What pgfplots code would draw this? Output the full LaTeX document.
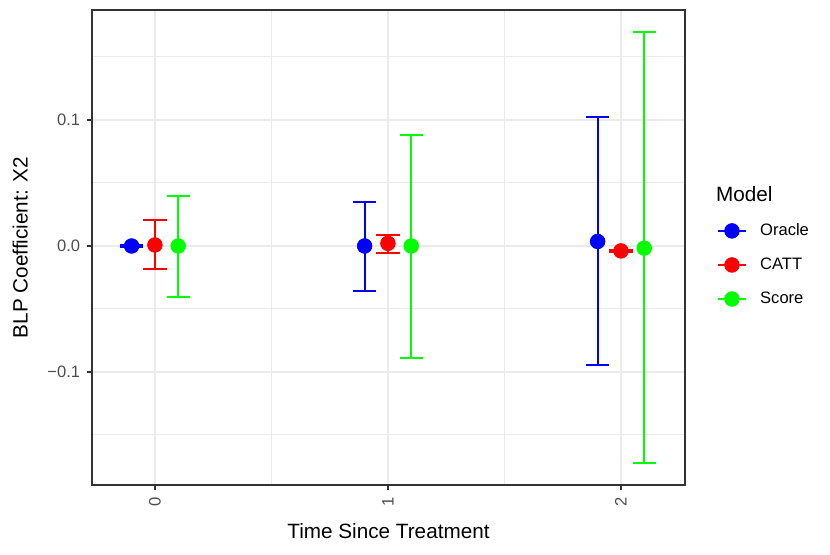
\documentclass[border=0pt]{standalone}
\usepackage{fontspec}
\setmainfont{Liberation Sans}
\usepackage{pgfplots}
\pgfplotsset{compat=1.18}
\usepackage{pgfplotstable}
\definecolor{gg92}{HTML}{EBEBEB}
\definecolor{gray30}{HTML}{4D4D4D}
\definecolor{gray20}{HTML}{333333}
\definecolor{ggblue}{HTML}{0000FF}
\definecolor{ggred}{HTML}{FF0000}
\definecolor{gggreen}{HTML}{00FF00}
\newlength\px
\setlength\px{0.5315pt}

\pgfplotstableread{
x y ep em
-0.1 0.0000 0.0010 0.0010
0.9 0.0000 0.0352 0.0355
1.9 0.0036 0.0984 0.0983
}\oracle
\pgfplotstableread{
x y ep em
0 0.0008 0.0196 0.0193
1 0.0021 0.0069 0.0074
2 -0.0039 0.0010 0.0010
}\catt
\pgfplotstableread{
x y ep em
0.1 0.0000 0.0397 0.0407
1.1 0.0000 0.0881 0.0889
2.1 -0.0017 0.1714 0.1703
}\score

\begin{document}
\begin{tikzpicture}
\useasboundingbox (0,0) rectangle (830\px,554\px);
\begin{axis}[
  at={(92\px,69\px)}, anchor=south west,
  scale only axis, width=593\px, height=475\px,
  xmin=-0.27, xmax=2.275, ymin=-0.1897, ymax=0.1873,
  clip mode=individual,
  xtick={0,1,2}, xticklabels={0,1,2},
  ytick={-0.1,0,0.1}, yticklabels={−0.1,0.0,0.1},
  minor xtick={0.5,1.5}, minor ytick={-0.15,-0.05,0.05,0.15},
  grid=both,
  major grid style={gg92, line width=1.07pt},
  minor grid style={gg92, line width=0.53pt},
  minor tick length=0pt,
  tick pos=left, tick align=outside,
  major tick length=2.75pt,
  tick style={gray20, line width=1.07pt},
  axis line style={gray20, line width=1.07pt},
  yticklabel style={font=\fontsize{8.8}{10}\selectfont, color=gray30},
  xticklabel style={font=\fontsize{8.8}{10}\selectfont, color=gray30, rotate=90, anchor=east},
  xlabel={Time Since Treatment},
  ylabel={BLP Coefficient: X2},
  label style={font=\fontsize{11}{13}\selectfont, color=black},
  xlabel style={at={(axis description cs:0.5,-0.097)}, anchor=center},
  ylabel style={at={(axis description cs:-0.121,0.5)}, anchor=center},
  legend cell align=left,
  legend style={draw=none, fill=none, at={(axis description cs:1.054,0.552)}, anchor=north west,
    font=\fontsize{8.8}{10}\selectfont, row sep=9.9pt, inner sep=0pt,
    nodes={inner sep=0pt}},
  legend image code/.code={
    \draw[line width=1.07pt] (0pt,0pt) -- (14.4pt,0pt);
    \fill (7.2pt,0pt) circle (3.9pt);
    \path (22pt,0pt);
  },
]
% error bars
\addplot[forget plot, only marks, mark=none, ggblue,
  error bars/.cd, y dir=both, y explicit, error mark=|,
  error bar style={line width=1.07pt, ggblue},
  error mark options={line width=1.07pt, mark size=6.2pt, ggblue}]
  table[x=x, y=y, y error plus=ep, y error minus=em]{\oracle};
\addplot[forget plot, only marks, mark=none, ggred,
  error bars/.cd, y dir=both, y explicit, error mark=|,
  error bar style={line width=1.07pt, ggred},
  error mark options={line width=1.07pt, mark size=6.2pt, ggred}]
  table[x=x, y=y, y error plus=ep, y error minus=em]{\catt};
\addplot[forget plot, only marks, mark=none, gggreen,
  error bars/.cd, y dir=both, y explicit, error mark=|,
  error bar style={line width=1.07pt, gggreen},
  error mark options={line width=1.07pt, mark size=6.2pt, gggreen}]
  table[x=x, y=y, y error plus=ep, y error minus=em]{\score};
% points
\addplot[only marks, mark=*, mark size=3.9pt, ggblue, mark options={draw=none, fill=ggblue}]
  table[x=x, y=y]{\oracle};
\addlegendentry{Oracle}
\addplot[only marks, mark=*, mark size=3.9pt, ggred, mark options={draw=none, fill=ggred}]
  table[x=x, y=y]{\catt};
\addlegendentry{CATT}
\addplot[only marks, mark=*, mark size=3.9pt, gggreen, mark options={draw=none, fill=gggreen}]
  table[x=x, y=y]{\score};
\addlegendentry{Score}
\node[anchor=west, font=\fontsize{11}{13}\selectfont, inner sep=0pt] at (axis description cs:1.052,0.613) {Model};
\end{axis}
\end{tikzpicture}
\end{document}
